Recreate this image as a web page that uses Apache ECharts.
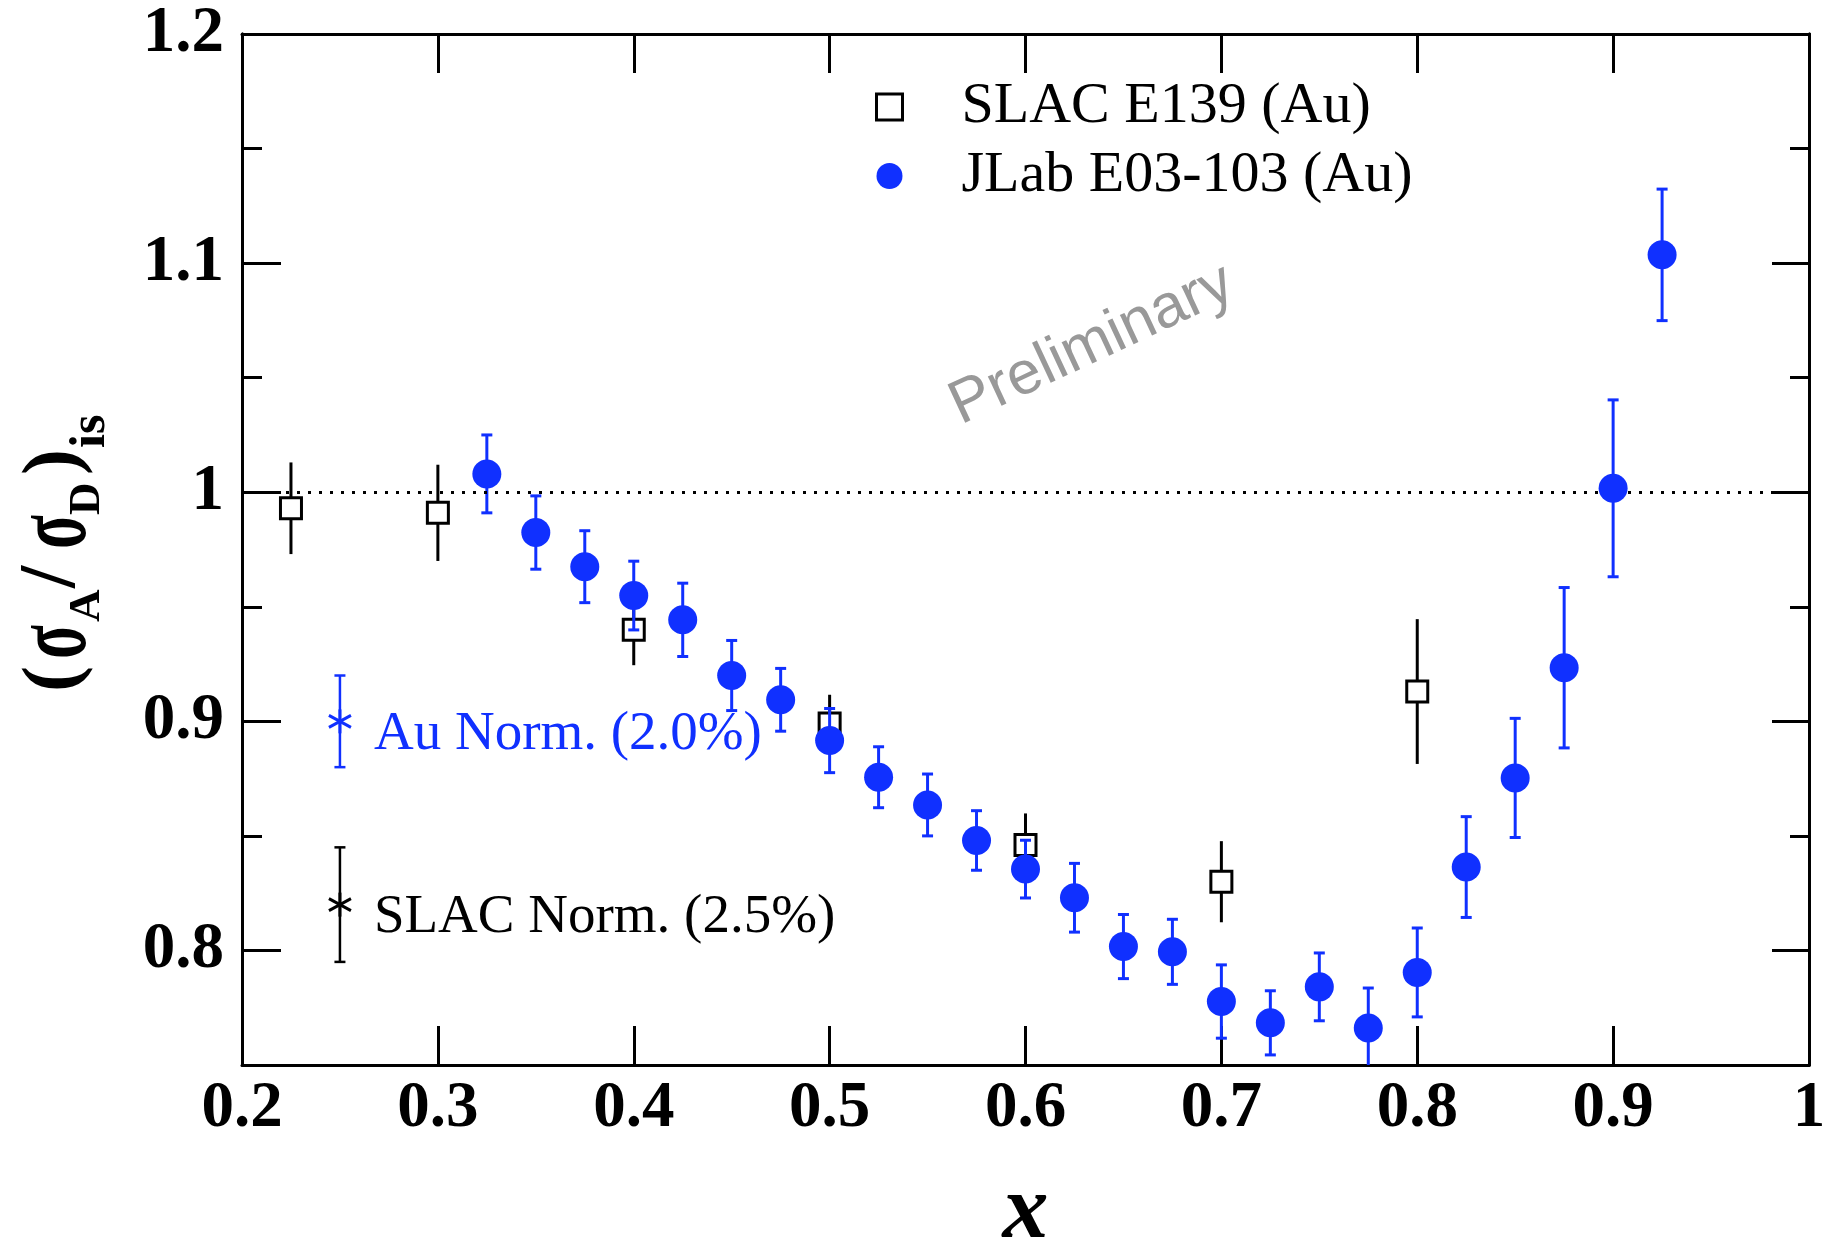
<!DOCTYPE html>
<html>
<head>
<meta charset="utf-8">
<title>Isoscalar cross-section ratio, Au/D</title>
<script src="https://cdn.jsdelivr.net/npm/echarts@6/dist/echarts.min.js"></script>
<style>
  html, body { margin: 0; padding: 0; background: #fff; }
  #chart { width: 1823px; height: 1247px; }
</style>
</head>
<body>
<div id="chart"></div>
<script>
// ---- data -------------------------------------------------------------
// SLAC E139 (Au): x, ratio, uncertainty
const slacX   = [0.225, 0.300, 0.400, 0.500, 0.600, 0.700, 0.800];
const slacY   = [0.993, 0.991, 0.940, 0.899, 0.846, 0.830, 0.913];
const slacErr = [0.020, 0.021, 0.0155, 0.0126, 0.0138, 0.0177, 0.0316];

// JLab E03-103 (Au): x, ratio, uncertainty
const jlabX   = [0.325, 0.350, 0.375, 0.400, 0.425, 0.450, 0.475, 0.500, 0.525,
                 0.550, 0.575, 0.600, 0.625, 0.650, 0.675, 0.700, 0.725, 0.750,
                 0.775, 0.800, 0.825, 0.850, 0.875, 0.900, 0.925];
const jlabY   = [1.008, 0.9824, 0.9675, 0.9549, 0.9443, 0.920, 0.9094, 0.8916, 0.8756,
                 0.8635, 0.848, 0.8355, 0.823, 0.8017, 0.7994, 0.7777, 0.7684, 0.7841,
                 0.7661, 0.7904, 0.8364, 0.8753, 0.9234, 1.0017, 1.1036];
const jlabErr = [0.017, 0.016, 0.0157, 0.015, 0.016, 0.0153, 0.0137, 0.014, 0.0133,
                 0.0135, 0.013, 0.0126, 0.015, 0.014, 0.0142, 0.016, 0.014, 0.0148,
                 0.0175, 0.0194, 0.022, 0.026, 0.035, 0.0386, 0.0287];

// normalisation uncertainties
const normLabels = ['Au Norm. (2.0%)', 'SLAC Norm. (2.5%)'];
const normX      = [0.25, 0.25];
const normY      = [0.90, 0.82];
const normErr    = [0.020, 0.025];

// axes
const xRange       = [0.2, 1.0];
const yRange       = [0.75, 1.2];
const yMajorTicks  = [0.8, 0.9, 1.0, 1.1, 1.2];
const yMinorTicks  = [0.85, 0.95, 1.05, 1.15];
const unityLine    = 1.0;

const seriesNames = ['SLAC E139 (Au)', 'JLab E03-103 (Au)'];

// ---- styles -----------------------------------------------------------
const BLUE  = '#1030ff';
const BLACK = '#000000';
const SERIF = '"Liberation Serif", "Times New Roman", serif';
const SANS  = '"Liberation Sans", Arial, sans-serif';
const normColors = [BLUE, BLACK];

const zip3 = (a, b, c) => a.map((v, i) => [v, b[i], c[i]]);
const trimNum = v => String(+(+v).toFixed(3));

function errorBars(color, capHalf) {
  return function (params, api) {
    const x = api.value(0), y = api.value(1), e = api.value(2);
    const hi = api.coord([x, y + e]);
    const lo = api.coord([x, y - e]);
    const st = { stroke: color, lineWidth: 3 };
    const children = [
      { type: 'line', shape: { x1: hi[0], y1: hi[1], x2: lo[0], y2: lo[1] }, style: st }
    ];
    if (capHalf > 0) {
      children.push(
        { type: 'line', shape: { x1: hi[0] - capHalf, y1: hi[1], x2: hi[0] + capHalf, y2: hi[1] }, style: st },
        { type: 'line', shape: { x1: lo[0] - capHalf, y1: lo[1], x2: lo[0] + capHalf, y2: lo[1] }, style: st }
      );
    }
    return { type: 'group', children };
  };
}

function normMarker(params, api) {
  const i = params.dataIndex;
  const color = normColors[i];
  const x = api.value(0), y = api.value(1), e = api.value(2);
  const c  = api.coord([x, y]);
  const hi = api.coord([x, y + e]);
  const lo = api.coord([x, y - e]);
  const st = { stroke: color, lineWidth: 2.5 };
  const star = { stroke: color, lineWidth: 3 };
  const cap = 5.5;
  return {
    type: 'group',
    children: [
      { type: 'line', shape: { x1: hi[0], y1: hi[1], x2: lo[0], y2: lo[1] }, style: st },
      { type: 'line', shape: { x1: hi[0] - cap, y1: hi[1], x2: hi[0] + cap, y2: hi[1] }, style: st },
      { type: 'line', shape: { x1: lo[0] - cap, y1: lo[1], x2: lo[0] + cap, y2: lo[1] }, style: st },
      // asterisk
      { type: 'line', shape: { x1: c[0] - 11, y1: c[1] - 6, x2: c[0] + 11, y2: c[1] + 6 }, style: star },
      { type: 'line', shape: { x1: c[0] - 11, y1: c[1] + 6, x2: c[0] + 11, y2: c[1] - 6 }, style: star },
      { type: 'line', shape: { x1: c[0], y1: c[1] - 12, x2: c[0], y2: c[1] + 12 }, style: star },
      {
        type: 'text', x: c[0] + 34, y: c[1] + 13,
        style: {
          text: normLabels[i], fill: color,
          font: '55px ' + SERIF, align: 'left', verticalAlign: 'middle'
        }
      }
    ]
  };
}

// y-axis title: (σA/σD)is, built from individual glyph runs
function yTitle() {
  const big = 'bold 78px ' + SERIF;
  const sig = 'bold 104px ' + SERIF;
  const sub = 'bold 45px ' + SERIF;
  const t = (text, x, y, font, sx) => ({
    type: 'text', x, y, scaleX: sx || 1,
    style: { text, font, fill: BLACK, align: 'left', verticalAlign: 'middle' }
  });
  return {
    type: 'group', x: 56, y: 692, rotation: Math.PI / 2,
    children: [
      t('(', 0, 0, big),
      t('σ', 33, 2, sig, 0.6),
      t('A', 70, 31, sub),
      t('/', 104, -3, 'bold 80px ' + SERIF),
      t('σ', 143, 2, sig, 0.6),
      t('D', 177, 31, sub),
      t(')', 217, 0, big),
      t('is', 244, 35, 'bold 50px ' + SERIF)
    ]
  };
}

const axisLineStyle = { color: BLACK, width: 3 };

function yAxisDef(position, ticks, len, withLabels) {
  return {
    type: 'value', position,
    min: yRange[0], max: yRange[1], interval: 0.05,
    axisLine: { show: true, lineStyle: axisLineStyle },
    axisTick: { show: true, inside: true, length: len, customValues: ticks,
                lineStyle: { color: BLACK, width: 3 } },
    axisLabel: withLabels ? {
      show: true, customValues: yMajorTicks, margin: 18,
      formatter: trimNum, color: BLACK,
      fontFamily: SERIF, fontWeight: 'bold', fontSize: 65
    } : { show: false },
    splitLine: { show: false }
  };
}

const chart = echarts.init(document.getElementById('chart'), null, { renderer: 'canvas' });

chart.setOption({
  backgroundColor: '#ffffff',
  animation: false,
  grid: { left: 242, right: 14, top: 34, bottom: 182, containLabel: false, outerBoundsMode: 'none' },
  legend: {
    orient: 'vertical', left: 870, top: 73,
    itemWidth: 26, itemHeight: 26, itemGap: 11,
    selectedMode: false,
    textStyle: { fontFamily: SERIF, fontSize: 58, lineHeight: 58, color: BLACK, padding: [0, 0, 0, 54] },
    data: [
      { name: seriesNames[0], icon: 'rect', itemStyle: { color: '#ffffff', borderColor: BLACK, borderWidth: 3 } },
      { name: seriesNames[1], icon: 'circle', itemStyle: { color: BLUE, borderWidth: 0 } }
    ]
  },
  xAxis: [
    {
      type: 'value', position: 'bottom',
      min: xRange[0], max: xRange[1], interval: 0.1,
      axisLine: { show: true, lineStyle: axisLineStyle },
      axisTick: { show: true, inside: true, length: 39, lineStyle: { color: BLACK, width: 3 } },
      axisLabel: {
        show: true, margin: 12, formatter: trimNum, color: BLACK,
        fontFamily: SERIF, fontWeight: 'bold', fontSize: 65
      },
      splitLine: { show: false },
      name: 'x', nameLocation: 'middle', nameGap: 102,
      nameTextStyle: { fontFamily: SERIF, fontStyle: 'italic', fontWeight: 'bold', fontSize: 92, color: BLACK }
    },
    {
      type: 'value', position: 'top',
      min: xRange[0], max: xRange[1], interval: 0.1,
      axisLine: { show: true, lineStyle: axisLineStyle },
      axisTick: { show: true, inside: true, length: 39, lineStyle: { color: BLACK, width: 3 } },
      axisLabel: { show: false },
      splitLine: { show: false }
    }
  ],
  yAxis: [
    yAxisDef('left', yMajorTicks, 39, true),
    yAxisDef('left', yMinorTicks, 20, false),
    yAxisDef('right', yMajorTicks, 37, false),
    yAxisDef('right', yMinorTicks, 19, false)
  ],
  graphic: [
    yTitle(),
    {
      type: 'text', x: 1092, y: 345, rotation: 25 * Math.PI / 180,
      style: { text: 'Preliminary', font: '61px ' + SANS, fill: '#999999', align: 'center', verticalAlign: 'middle' }
    }
  ],
  series: [
    {
      type: 'custom', name: 'slacErr', xAxisIndex: 0, yAxisIndex: 0,
      renderItem: errorBars(BLACK, 0), clip: true,
      encode: { x: 0, y: 1 }, data: zip3(slacX, slacY, slacErr), z: 2
    },
    {
      type: 'scatter', name: seriesNames[0], xAxisIndex: 0, yAxisIndex: 0,
      symbol: 'rect', symbolSize: 21,
      itemStyle: { color: '#ffffff', borderColor: BLACK, borderWidth: 3, opacity: 1 },
      data: slacX.map((x, i) => [x, slacY[i]]), z: 3,
      markLine: {
        silent: true, symbol: 'none', label: { show: false },
        lineStyle: { color: BLACK, width: 3, type: [3, 8] },
        data: [{ yAxis: unityLine }]
      }
    },
    {
      type: 'custom', name: 'jlabErr', xAxisIndex: 0, yAxisIndex: 0,
      renderItem: errorBars(BLUE, 5.5), clip: true,
      encode: { x: 0, y: 1 }, data: zip3(jlabX, jlabY, jlabErr), z: 4
    },
    {
      type: 'scatter', name: seriesNames[1], xAxisIndex: 0, yAxisIndex: 0,
      symbol: 'circle', symbolSize: 29,
      itemStyle: { color: BLUE, opacity: 1 },
      data: jlabX.map((x, i) => [x, jlabY[i]]), z: 5
    },
    {
      type: 'custom', name: 'norm', xAxisIndex: 0, yAxisIndex: 0,
      renderItem: normMarker, clip: false,
      encode: { x: 0, y: 1 }, data: zip3(normX, normY, normErr), z: 6
    }
  ]
});
</script>
</body>
</html>
